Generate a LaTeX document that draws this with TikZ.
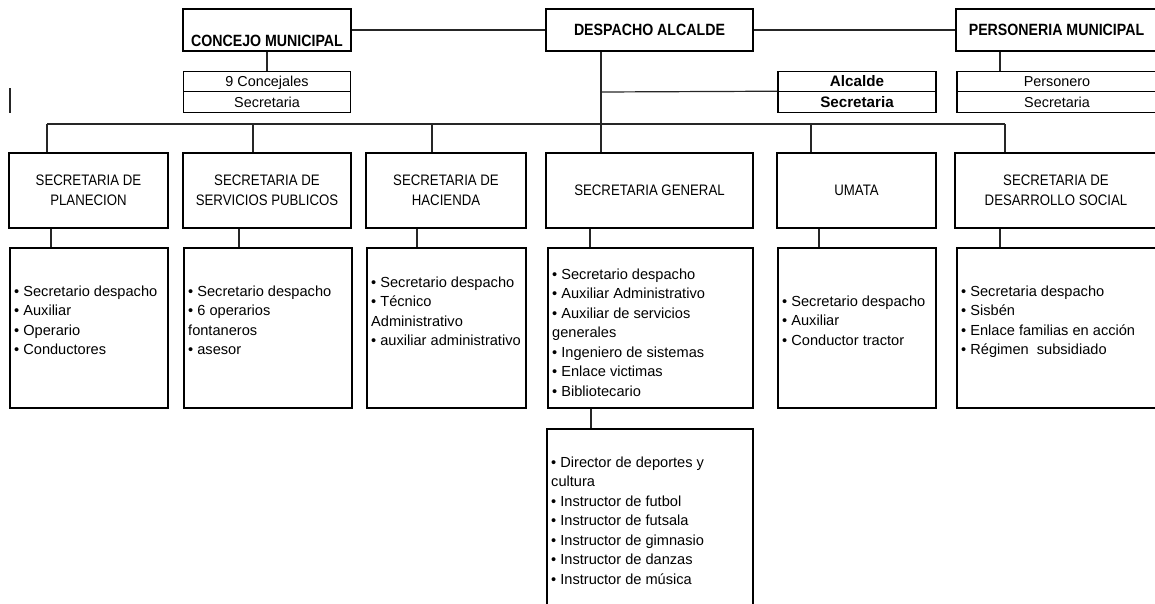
\documentclass[tikz,border=0pt]{standalone}
\usepackage{fontspec}
\setmainfont{Liberation Sans}
\newfontfamily\narrowfont[FakeStretch=0.87]{Liberation Sans}
\usepackage{tikz}

\tikzset{
  topbox/.style={draw, rectangle, line width=2.8pt, inner sep=0pt, minimum height=42pt, font=\narrowfont\bfseries\fontsize{16.3}{19}\selectfont},
  deptbox/.style={draw, rectangle, line width=2.8pt, inner sep=0pt, minimum height=75pt, align=center, font=\narrowfont\fontsize{15.2}{20}\selectfont},
  rowbox/.style={draw, rectangle, line width=1.1pt, inner sep=0pt, minimum height=20.5pt, text height=12pt, text depth=2pt, font=\fontsize{14.4}{17}\selectfont},
  boldrow/.style={font=\bfseries\fontsize{15.2}{17}\selectfont},
  listbox/.style={draw, rectangle, line width=1.1pt, inner sep=0pt, minimum height=160pt},
  listtext/.style={anchor=north west, inner sep=0pt, align=left, font=\fontsize{14.6}{19.5}\selectfont},
  link/.style={line width=1.2pt, black!85}
}

\begin{document}
\begin{tikzpicture}[x=1pt, y=-1pt]
\path[use as bounding box, clip] (0,0) rectangle (1155,603);

\node[topbox, minimum width=168pt] (concejo) at (267,30) {};
\node[inner sep=0pt, font=\narrowfont\bfseries\fontsize{16.3}{19}\selectfont] (concejolabel) at (267,41) {CONCEJO MUNICIPAL};
\node[topbox, minimum width=207pt] (despacho) at (649.5,30) {DESPACHO ALCALDE};
\node[topbox, minimum width=201pt] (personeria) at (1056.5,30) {PERSONERIA MUNICIPAL};

\node[rowbox, minimum width=167pt] (concejales) at (267,81.5) {9 Concejales};
\node[rowbox, minimum width=167pt] (concejosecre) at (267,102) {Secretaria};
\node[rowbox, boldrow, minimum width=158pt] (alcalde) at (857,81.5) {Alcalde};
\node[rowbox, boldrow, minimum width=158pt] (alcaldesecre) at (857,102) {Secretaria};
\node[rowbox, minimum width=200pt] (personero) at (1057,81.5) {Personero};
\node[rowbox, minimum width=200pt] (personerosecre) at (1057,102) {Secretaria};

\node[deptbox, minimum width=159pt] (planeacion) at (88.5,190.5) {SECRETARIA DE\\PLANECION};
\node[deptbox, minimum width=168pt] (servicios) at (267,190.5) {SECRETARIA DE\\SERVICIOS PUBLICOS};
\node[deptbox, minimum width=160pt] (hacienda) at (446,190.5) {SECRETARIA DE\\HACIENDA};
\node[deptbox, minimum width=207pt] (general) at (649.5,190.5) {SECRETARIA GENERAL};
\node[deptbox, minimum width=159pt] (umata) at (856.5,190.5) {UMATA};
\node[deptbox, minimum width=202pt] (desarrollo) at (1056,190.5) {SECRETARIA DE\\DESARROLLO SOCIAL};

\node[listbox, minimum width=158pt] (listplaneacion) at (89,328) {};
\node[listbox, minimum width=168pt] (listservicios) at (268,328) {};
\node[listbox, minimum width=159pt] (listhacienda) at (446.5,328) {};
\node[listbox, minimum width=205pt] (listgeneral) at (650.5,328) {};
\node[listbox, minimum width=158pt] (listumata) at (857,328) {};
\node[listbox, minimum width=200pt] (listdesarrollo) at (1057,328) {};
\node[listbox, minimum width=206pt, minimum height=191pt] (listdeportes) at (650,524.5) {};

\node[listtext] (textplaneacion) at (14,285.3) {• Secretario despacho\\• Auxiliar\\• Operario\\• Conductores};
\node[listtext] (textservicios) at (188,285.3) {• Secretario despacho\\• 6 operarios\\fontaneros\\• asesor};
\node[listtext] (texthacienda) at (371,276.3) {• Secretario despacho\\• Técnico\\Administrativo\\• auxiliar administrativo};
\node[listtext] (textgeneral) at (552,268.3) {• Secretario despacho\\• Auxiliar Administrativo\\• Auxiliar de servicios\\generales\\• Ingeniero de sistemas\\• Enlace victimas\\• Bibliotecario};
\node[listtext] (textumata) at (782,295.3) {• Secretario despacho\\• Auxiliar\\• Conductor tractor};
\node[listtext] (textdesarrollo) at (961,285.3) {• Secretaria despacho\\• Sisbén\\• Enlace familias en acción\\• Régimen\ \ subsidiado};
\node[listtext] (textdeportes) at (551,456.3) {• Director de deportes y\\cultura\\• Instructor de futbol\\• Instructor de futsala\\• Instructor de gimnasio\\• Instructor de danzas\\• Instructor de música};

\draw[link] (concejo) -- (despacho);
\draw[link] (despacho) -- (personeria);
\draw[link] (concejo) -- (concejales);
\draw[link] (personeria.south -| 1000,0) -- (personero.north -| 1000,0);
\coordinate (trunk) at (601,92);
\draw[link] (despacho.south -| trunk) -- (general.north -| trunk);
\draw[link] (trunk) -- (alcaldesecre.north west);
\coordinate (busleft) at (47,124);
\coordinate (busright) at (1005,124);
\draw[link] (busleft) -- (busright);
\foreach \dept/\xx in {planeacion/47, servicios/253, hacienda/432, umata/811, desarrollo/1005}
  \draw[link] (\xx,124) -- (\dept.north -| \xx,0);
\foreach \dept/\xx in {planeacion/51, servicios/239, hacienda/417, general/590, umata/819, desarrollo/1000}
  \draw[link] (\dept.south -| \xx,0) -- (list\dept.north -| \xx,0);
\draw[link] (listgeneral.south -| 591,0) -- (listdeportes.north -| 591,0);
\draw[link] (10,88) -- (10,113);

\end{tikzpicture}
\end{document}
